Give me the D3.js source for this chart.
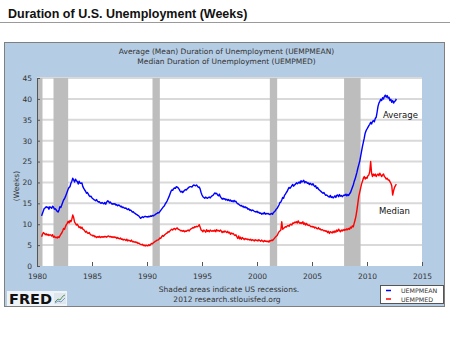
<!DOCTYPE html>
<html><head><meta charset="utf-8">
<script src="https://cdn.jsdelivr.net/npm/d3@7"></script>
<style>body{margin:0;background:#fff}svg{display:block}</style>
</head><body>
<script>
// Monthly data, first value = June 1980, last = Sep 2012
const startYear = 1980, startMonth = 6;
const meanWeeks = [
 12.0,12.6,13.2,13.8,13.9,14.2,14.0,
 14.1,13.6,14.2,14.0,13.8,14.3,14.1,13.6,13.7,13.4,13.1,12.9,
 13.4,14.2,14.0,14.6,15.2,15.8,16.1,16.6,17.2,17.8,18.4,18.8,
 19.0,19.8,20.3,21.0,20.6,20.1,20.8,20.4,20.2,19.6,20.3,19.8,
 19.8,19.9,19.0,18.6,18.2,17.9,17.4,17.6,17.2,16.8,16.6,16.7,
 16.3,16.1,15.9,15.8,15.6,15.9,15.5,15.3,15.4,15.1,15.0,15.2,
 15.0,14.9,15.2,14.8,15.3,15.6,15.5,15.1,15.3,15.0,14.8,14.9,
 14.8,14.9,14.6,14.7,14.4,14.6,14.5,14.2,14.3,14.0,14.1,13.9,
 13.8,13.9,13.6,13.5,13.7,13.3,13.4,13.2,12.9,13.0,12.7,12.6,
 12.4,12.3,12.1,12.0,11.7,11.4,11.6,11.8,11.6,11.8,11.9,11.8,
 11.8,11.7,11.9,11.8,12.0,11.9,12.1,12.0,12.2,12.3,12.5,12.6,
 12.8,12.7,13.0,13.3,13.6,13.9,14.2,14.4,14.9,15.2,15.6,16.1,
 16.6,17.2,17.8,18.2,18.1,18.5,18.7,18.6,19.0,18.9,18.7,18.4,
 18.0,17.7,17.9,17.6,17.9,18.1,18.3,18.2,18.5,18.7,18.9,19.0,
 19.0,18.9,19.2,19.4,19.3,19.2,19.4,19.1,18.8,18.9,18.4,17.6,
 17.0,16.6,16.4,16.2,16.5,16.3,16.2,16.4,16.5,16.3,16.6,16.8,
 16.9,17.2,17.5,17.3,17.4,17.0,16.8,17.2,16.6,16.3,16.0,16.2,
 16.0,16.1,15.8,16.0,15.7,15.9,15.6,15.8,15.5,15.6,15.4,15.7,
 15.4,15.5,15.1,14.9,14.8,14.6,14.4,14.5,14.2,14.3,14.0,14.2,
 13.9,14.0,13.6,13.7,13.4,13.5,13.2,13.4,13.3,13.1,13.0,12.9,
 13.1,12.8,12.9,12.6,12.7,12.4,12.6,12.5,12.8,12.4,12.6,12.5,
 12.6,12.4,12.3,12.5,12.6,12.4,12.8,13.0,13.2,13.6,13.8,14.2,
 14.6,15.2,15.3,15.8,16.4,16.2,16.9,17.2,17.6,17.9,18.4,18.8,
 18.6,18.9,19.2,19.5,19.1,19.4,19.6,19.9,19.7,19.9,20.1,19.8,
 20.4,20.1,20.3,20.5,19.9,20.2,20.1,19.8,19.9,19.5,19.8,19.6,
 19.4,19.7,19.3,19.0,19.2,18.6,18.8,18.4,18.2,18.0,17.8,17.6,
 17.4,17.6,17.2,16.9,17.0,16.8,16.6,16.5,16.9,16.4,16.6,16.3,
 16.5,16.8,16.4,16.9,17.0,16.6,17.1,16.7,16.9,16.6,16.8,17.0,
 16.9,17.2,16.8,17.1,16.9,17.3,17.6,18.2,18.8,19.4,20.2,20.8,
 21.6,22.4,23.4,24.2,25.0,26.2,27.4,28.6,29.6,30.6,31.8,32.4,
 32.8,33.2,33.6,33.9,34.4,34.0,34.6,34.8,34.5,35.3,35.6,36.8,
 38.2,39.0,39.4,39.9,39.6,40.3,40.0,40.6,40.9,40.4,40.8,40.2,
 40.4,39.6,39.9,39.2,39.6,39.0,39.4,39.5,40.0
];
const medianWeeks = [
 7.0,7.6,8.0,7.8,7.5,7.7,7.4,
 7.6,7.3,7.5,7.4,7.2,7.5,6.9,7.1,6.8,6.9,6.7,7.0,
 6.8,7.2,7.6,7.9,8.4,9.0,8.8,9.4,9.9,10.2,10.7,10.3,
 10.9,10.6,11.2,12.2,11.6,10.5,10.2,9.8,10.0,9.6,9.2,9.4,
 9.0,9.3,8.8,8.7,8.4,8.1,8.3,7.9,7.8,8.0,7.6,7.4,
 7.4,7.2,7.3,7.0,7.1,6.8,7.0,6.9,7.1,6.8,7.0,6.9,
 7.0,6.9,7.1,7.0,6.9,7.1,7.2,7.0,7.1,6.9,7.0,6.8,
 7.0,6.8,6.9,6.6,6.8,6.6,6.5,6.7,6.4,6.5,6.2,6.4,
 6.3,6.1,6.4,6.0,6.2,6.1,5.9,6.2,5.8,5.9,5.7,5.8,
 5.6,5.7,5.4,5.5,5.3,5.2,5.1,5.2,4.9,5.0,4.8,5.0,
 4.9,4.8,5.1,4.9,5.2,5.4,5.3,5.6,5.7,5.9,6.0,6.2,
 6.2,6.4,6.7,6.6,7.0,7.3,7.1,7.4,7.6,7.8,7.9,8.2,
 8.1,8.4,8.6,8.8,8.6,8.9,9.0,8.7,9.0,9.1,8.8,8.7,
 8.6,8.4,8.5,8.3,8.5,8.2,8.4,8.3,8.5,8.6,8.4,8.7,
 8.9,9.0,9.2,9.1,9.4,9.3,9.5,9.4,9.6,9.9,9.3,8.6,
 8.5,8.2,8.6,8.4,8.1,8.7,8.3,8.5,8.2,8.6,8.4,8.3,
 8.5,8.3,8.6,8.2,8.7,8.4,8.5,8.3,8.6,8.4,8.0,8.3,
 8.1,8.4,8.2,8.0,8.3,7.9,8.1,7.6,7.9,7.7,7.8,7.5,
 7.3,7.5,7.0,6.6,7.2,6.5,6.9,6.4,6.8,6.6,6.3,6.6,
 6.4,6.5,6.3,6.4,6.2,6.4,6.1,6.3,6.2,6.0,6.3,6.1,
 6.2,6.0,6.3,6.1,5.9,6.2,6.0,5.8,6.1,5.9,6.0,5.8,
 6.0,5.7,6.1,6.0,6.2,6.1,6.4,6.6,6.9,7.1,7.3,7.8,
 8.2,8.4,8.6,10.6,8.8,9.0,9.2,9.4,9.3,9.6,9.7,9.5,
 9.9,10.0,9.8,10.3,10.2,10.5,10.4,10.6,10.3,10.8,10.4,10.2,
 10.4,10.2,10.6,10.0,10.3,9.8,10.2,9.9,9.7,9.8,9.6,9.4,
 9.5,9.3,9.4,9.1,9.3,9.0,8.9,9.2,8.8,8.9,8.6,8.7,
 8.6,8.4,8.5,8.3,8.4,8.0,8.3,7.8,8.2,8.1,7.9,8.3,
 8.0,8.4,8.1,8.6,8.3,8.8,8.5,8.2,8.6,8.4,8.7,8.5,
 8.8,8.6,8.9,8.7,9.0,8.8,9.3,9.1,9.6,9.4,10.2,11.0,
 12.0,13.4,15.0,16.6,17.6,18.6,19.6,20.2,21.0,21.4,20.8,21.2,
 21.0,21.6,21.8,22.6,25.0,22.2,21.4,22.0,21.6,22.0,21.4,21.8,
 22.0,21.6,22.2,21.8,21.4,21.8,22.0,21.4,21.2,20.8,21.0,20.6,
 20.6,20.2,19.8,19.2,17.0,18.0,18.8,19.2,19.6
];
const recessionStarts = [1980.083, 1981.5, 1990.5, 2001.167, 2007.917];
const recessionEnds   = [1980.5, 1982.833, 1991.167, 2001.833, 2009.417];
const yTicks = [0,5,10,15,20,25,30,35,40,45];
const xTicks = [1980,1985,1990,1995,2000,2005,2010,2015];
const seriesNames = ["UEMPMEAN","UEMPMED"];
const seriesColors = ["#0000ff","#ff0000"];

const W = 450, H = 338;
const svg = d3.select("body").append("svg").attr("width", W).attr("height", H);
const font = "DejaVu Sans";

svg.append("rect").attr("width", W).attr("height", H).attr("fill", "#fff");
svg.append("text").attr("x", 8).attr("y", 18).text("Duration of U.S. Unemployment (Weeks)")
  .attr("font-family", "Liberation Sans").attr("font-weight", "bold").attr("font-size", 12.5).attr("fill", "#111");
svg.append("line").attr("x1", 0).attr("x2", W).attr("y1", 22.5).attr("y2", 22.5).attr("stroke", "#9a9a9a");

// panel
svg.append("rect").attr("x", 4.5).attr("y", 42.5).attr("width", 440).attr("height", 264)
  .attr("fill", "#b4cce4").attr("stroke", "#7f7f7f");

const x = d3.scaleLinear().domain([1980, 2015]).range([37, 422]);
const y = d3.scaleLinear().domain([0, 45]).range([266, 78]);

svg.append("rect").attr("x", x(1980)).attr("y", y(45)).attr("width", x(2015) - x(1980)).attr("height", y(0) - y(45)).attr("fill", "#fff");

// grid
svg.append("g").selectAll("line").data(yTicks.filter(d => d > 0)).join("line")
  .attr("x1", x(1980)).attr("x2", x(2015)).attr("y1", d => y(d)).attr("y2", d => y(d))
  .attr("stroke", "#d9d9d9").attr("stroke-width", 2);

// recessions
svg.append("g").selectAll("rect").data(recessionStarts).join("rect")
  .attr("x", d => x(d)).attr("width", (d, i) => x(recessionEnds[i]) - x(d))
  .attr("y", y(45)).attr("height", y(0) - y(45)).attr("fill", "#bdbdbd");

// axes
const yAxis = svg.append("g").attr("transform", `translate(${x(1980)},0)`)
  .call(d3.axisLeft(y).tickValues(yTicks).tickSize(-3).tickPadding(5));
yAxis.select(".domain").attr("stroke", "#555");
yAxis.selectAll(".tick line").attr("stroke", "#555");
yAxis.selectAll("text").attr("font-family", font).attr("font-size", 7.5).attr("fill", "#333");

const xAxis = svg.append("g").attr("transform", `translate(0,${y(0)})`)
  .call(d3.axisBottom(x).tickValues(xTicks).tickFormat(d3.format("d")).tickSize(-4).tickPadding(8));
xAxis.select(".domain").remove();
xAxis.selectAll(".tick line").attr("stroke", "#555");
xAxis.selectAll("text").attr("font-family", font).attr("font-size", 7.5).attr("fill", "#333");

svg.append("text").attr("transform", "translate(19,186) rotate(-90)").attr("text-anchor", "middle")
  .attr("font-family", font).attr("font-size", 7.5).attr("fill", "#333").text("(Weeks)");

// lines
const tOf = i => startYear + (startMonth - 1) / 12 + i / 12;
const line = d3.line().x((d, i) => x(tOf(i))).y(d => y(d));
[meanWeeks, medianWeeks].forEach((s, k) => {
  svg.append("path").datum(s).attr("d", line).attr("fill", "none")
    .attr("stroke", seriesColors[k]).attr("stroke-width", 1.4).attr("stroke-linejoin", "round");
});

// chart title
const tt = svg.append("text").attr("text-anchor", "middle").attr("font-family", font).attr("font-size", 7.5).attr("fill", "#333");
tt.append("tspan").attr("x", 226.5).attr("y", 54).text("Average (Mean) Duration of Unemployment (UEMPMEAN)");
tt.append("tspan").attr("x", 226.5).attr("y", 64).text("Median Duration of Unemployment (UEMPMED)");

// annotations
svg.append("text").attr("x", 383).attr("y", 118).attr("font-family", font).attr("font-size", 8.5).attr("fill", "#111").text("Average");
svg.append("text").attr("x", 379).attr("y", 214).attr("font-family", font).attr("font-size", 8.5).attr("fill", "#111").text("Median");

// footer
const ft = svg.append("text").attr("text-anchor", "middle").attr("font-family", font).attr("font-size", 7.5).attr("fill", "#333");
ft.append("tspan").attr("x", 229).attr("y", 292).text("Shaded areas indicate US recessions.");
ft.append("tspan").attr("x", 227).attr("y", 302).text("2012 research.stlouisfed.org");

// legend
const lg = svg.append("g");
lg.append("rect").attr("x", 380.5).attr("y", 285.5).attr("width", 63).attr("height", 18).attr("fill", "#fff").attr("stroke", "#555");
seriesNames.forEach((n, i) => {
  const yy = 290.5 + i * 8.5;
  lg.append("line").attr("x1", 386).attr("x2", 391).attr("y1", yy).attr("y2", yy).attr("stroke", seriesColors[i]).attr("stroke-width", 1.5);
  lg.append("text").attr("x", 401).attr("y", yy + 2.5).attr("font-family", font).attr("font-size", 6.3).attr("fill", "#333").text(n);
});

// FRED logo
const logo = svg.append("g");
logo.append("rect").attr("x", 7).attr("y", 291).attr("width", 60).attr("height", 15).attr("fill", "#eef3f8");
logo.append("text").attr("x", 9).attr("y", 304).attr("font-family", font).attr("font-weight", "bold")
  .attr("font-size", 13.5).attr("textLength", 43).attr("lengthAdjust", "spacingAndGlyphs").attr("fill", "#111").text("FRED");
logo.append("rect").attr("x", 54).attr("y", 293).attr("width", 12).attr("height", 11).attr("fill", "#dfe6ee");
logo.append("path").attr("d", "M55,302 L58,299 L60,300 L63,296 L65,295").attr("fill", "none").attr("stroke", "#5a9a5a").attr("stroke-width", 1);
logo.append("path").attr("d", "M55,303 L58,301 L61,302 L65,298").attr("fill", "none").attr("stroke", "#7a9ac8").attr("stroke-width", 1);
</script>
</body></html>
